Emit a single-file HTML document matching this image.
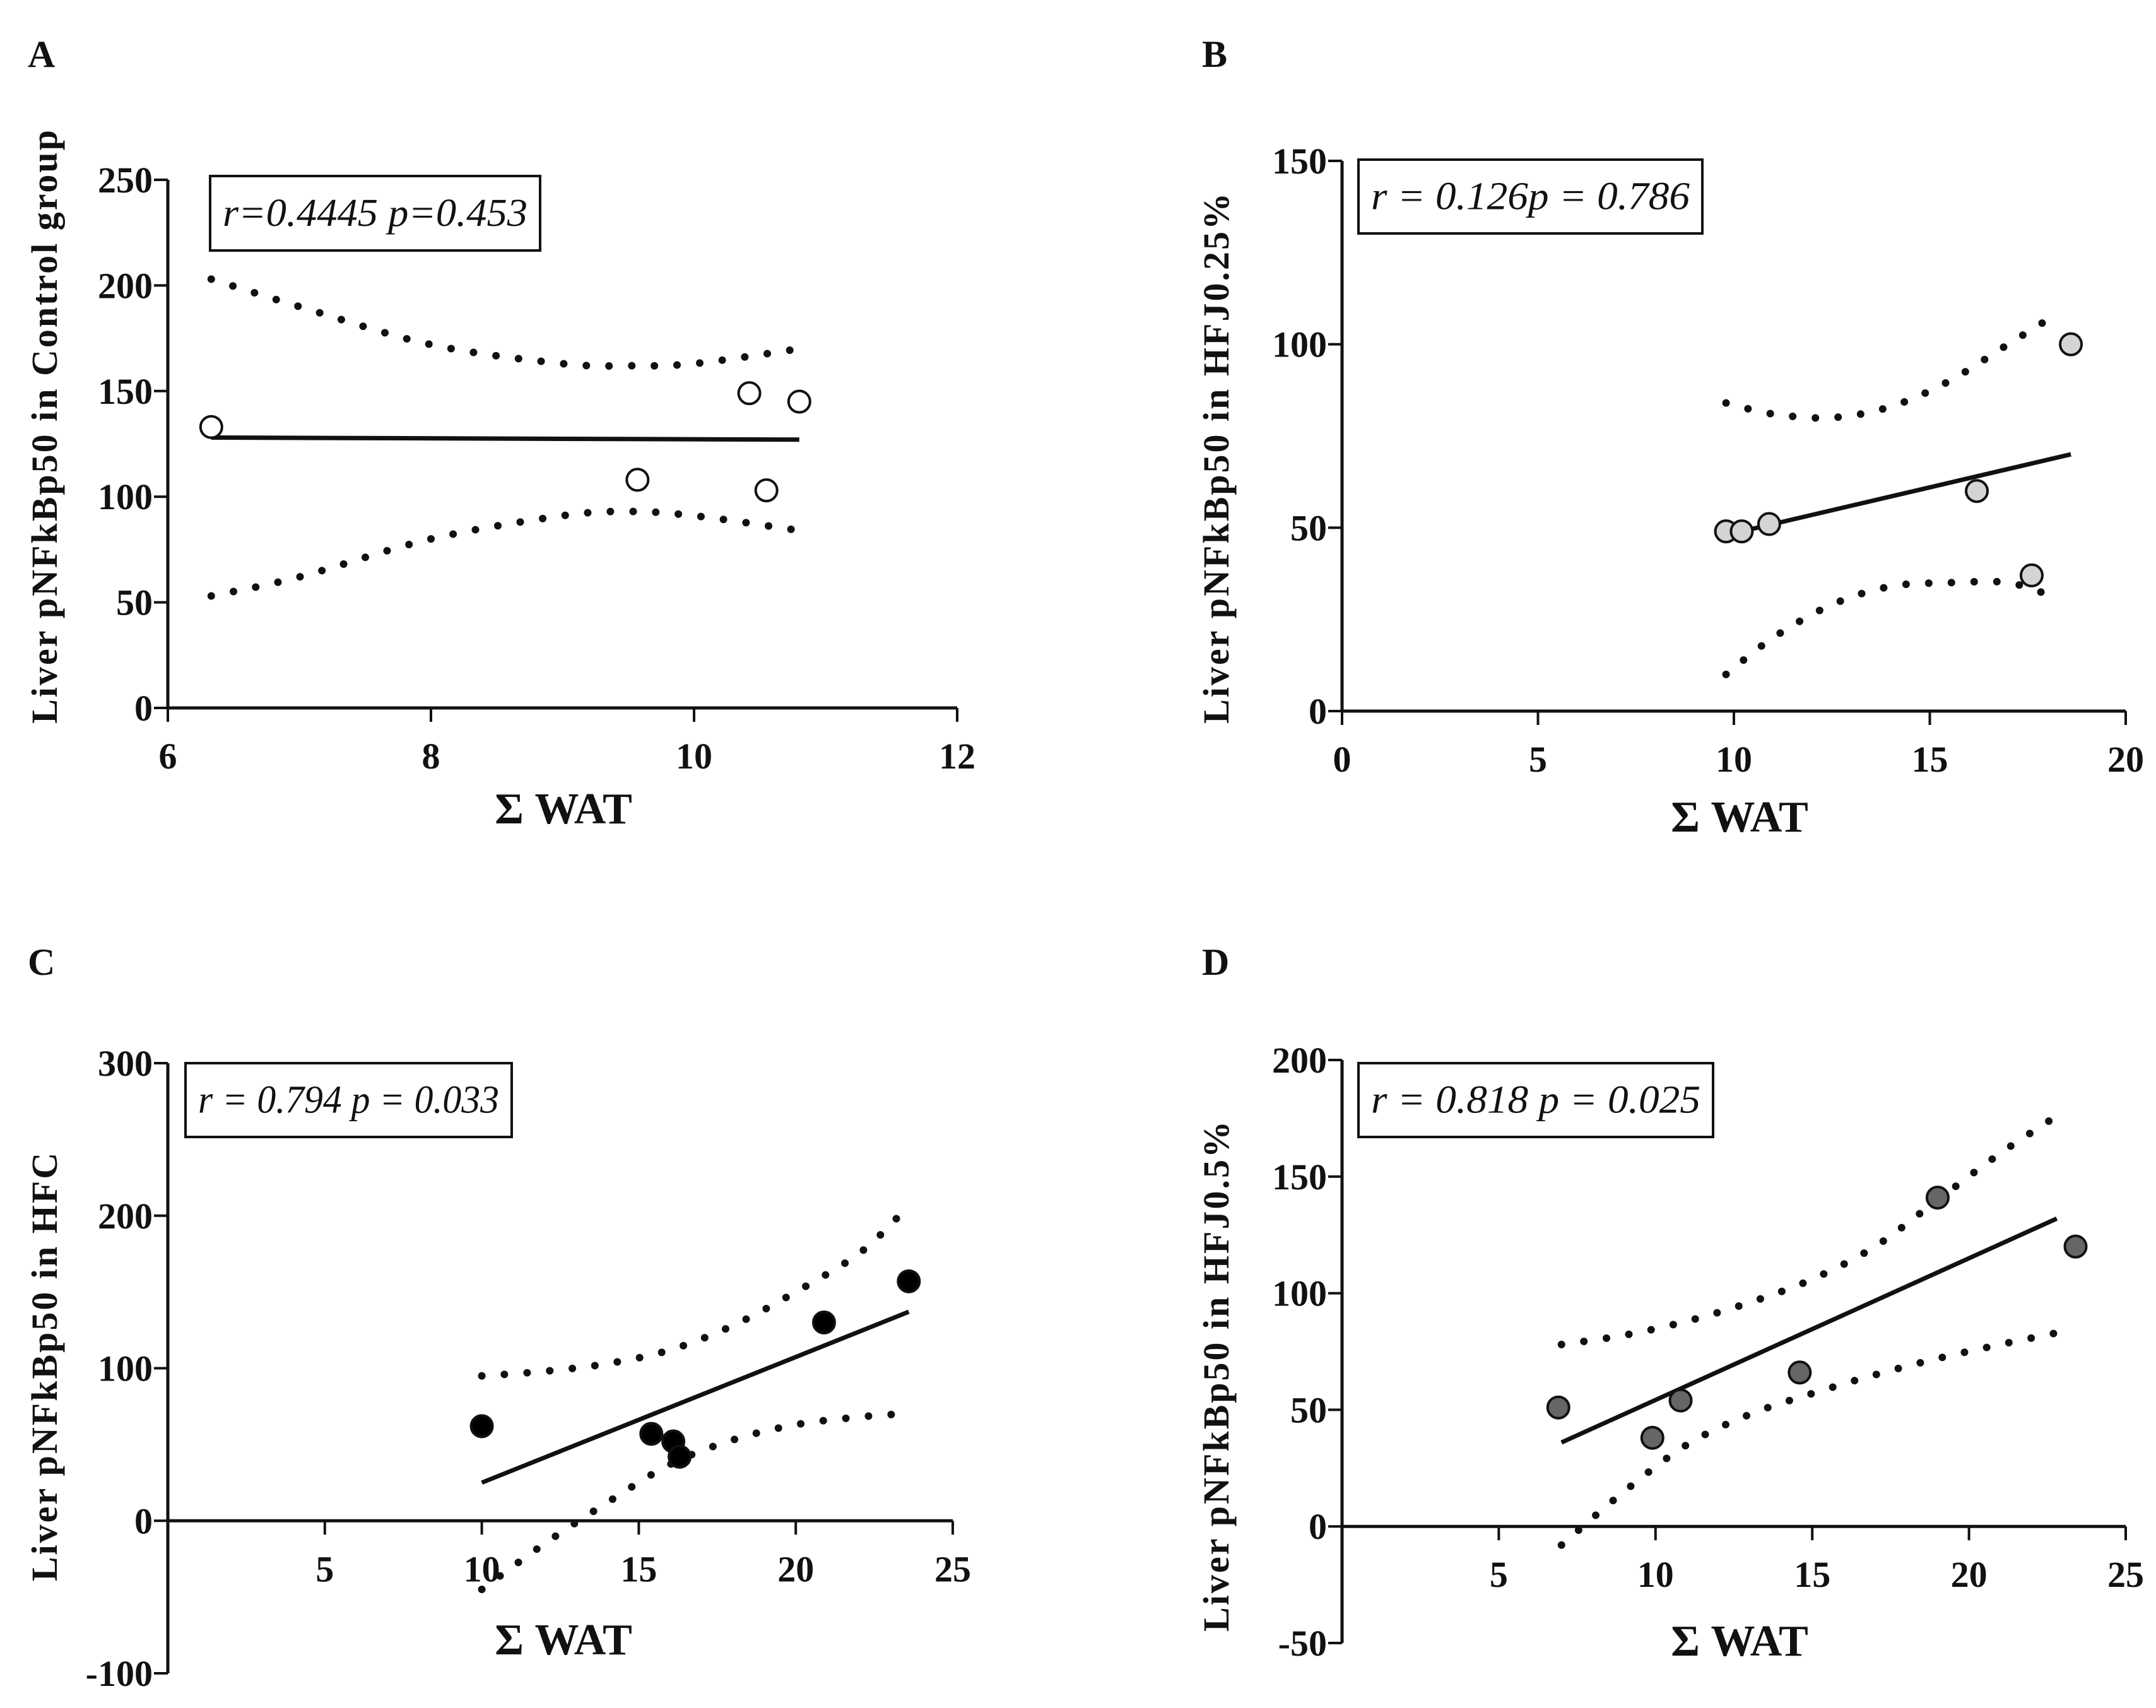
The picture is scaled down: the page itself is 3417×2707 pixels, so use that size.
<!DOCTYPE html>
<html><head><meta charset="utf-8">
<style>
html,body{margin:0;padding:0;background:#fff;}
svg{display:block;}
text{font-family:"Liberation Serif",serif;font-weight:bold;fill:#111;}
text.stat{font-weight:normal;font-style:italic;}
</style></head>
<body>
<svg id="fig" width="3417" height="2707" viewBox="0 0 3417 2707" xmlns="http://www.w3.org/2000/svg"></svg>
<script>
// ---- Panel A data ----
const aX = [6.33, 9.57, 10.42, 10.55, 10.8];
const aY = [133, 108, 149, 103, 145];
const aFitX = [6.33, 10.8];
const aFitY = [128, 127];
const aBandX = [6.33, 7.0, 8.0, 9.0, 9.5, 10.0, 10.8];
const aUpper = [203, 190, 172, 163, 162, 163, 170];
const aLower = [53, 62, 80, 91, 93, 91, 84];
const aXTicks = [6, 8, 10, 12];
const aYTicks = [0, 50, 100, 150, 200, 250];
// ---- Panel B data ----
const bX = [9.8, 10.2, 10.9, 16.2, 17.6, 18.6];
const bY = [49, 49, 51, 60, 37, 100];
const bFitX = [9.8, 18.6];
const bFitY = [48, 70];
const bBandX = [9.8, 11.0, 12.5, 14.0, 15.5, 17.0, 18.2];
const bUpper = [84, 81, 80, 83, 90, 100, 108];
const bLower = [10, 20, 29, 34, 35, 35, 31];
const bXTicks = [0, 5, 10, 15, 20];
const bYTicks = [0, 50, 100, 150];
// ---- Panel C data ----
const cX = [10.0, 15.4, 16.1, 16.3, 20.9, 23.6];
const cY = [62, 57, 52, 42, 130, 157];
const cFitX = [10.0, 23.6];
const cFitY = [25, 137];
const cBandX = [10.0, 12.0, 14.0, 16.0, 18.0, 20.0, 22.0, 23.3];
const cUpper = [95, 98, 103, 112, 128, 150, 175, 200];
const cLower = [-45, -15, 12, 37, 53, 63, 68, 70];
const cXTicks = [5, 10, 15, 20, 25];
const cYTicks = [-100, 0, 100, 200, 300];
// ---- Panel D data ----
const dX = [6.9, 9.9, 10.8, 14.6, 19.0, 23.4];
const dY = [51, 38, 54, 66, 141, 120];
const dFitX = [7.0, 22.8];
const dFitY = [36, 132];
const dBandX = [7.0, 9.0, 11.0, 13.0, 15.0, 17.0, 19.0, 21.0, 22.8];
const dUpper = [78, 82, 88, 96, 106, 120, 140, 160, 176];
const dLower = [-8, 15, 35, 48, 57, 65, 72, 78, 83];
const dXTicks = [5, 10, 15, 20, 25];
const dYTicks = [-50, 0, 50, 100, 150, 200];

const NS = 'http://www.w3.org/2000/svg';
const svg = document.getElementById('fig');
function mk(tag, attrs, parent, txt) {
  const e = document.createElementNS(NS, tag);
  for (const k in attrs) e.setAttribute(k, attrs[k]);
  if (txt !== undefined) e.textContent = txt;
  (parent || svg).appendChild(e);
  return e;
}

function panel(cfg) {
  const g = mk('g', {});
  
  
  const sx = v => cfg.px0 + (v - cfg.x0) / (cfg.x1 - cfg.x0) * (cfg.px1 - cfg.px0);
  const sy = v => cfg.py0 + (v - cfg.y0) / (cfg.y1 - cfg.y0) * (cfg.py1 - cfg.py0);
  const L = mk('text', {x: cfg.lx, y: cfg.ly, 'font-size': 60}, g, cfg.letter);
  
  
  const axisY = sy(Math.max(cfg.y0, 0));
  const xa = mk('line', {x1: cfg.px0, y1: axisY, x2: cfg.px1, y2: axisY, stroke: '#111', 'stroke-width': 5}, g);
  
  
  const ya = mk('line', {x1: cfg.px0, y1: sy(cfg.y0), x2: cfg.px0, y2: sy(cfg.y1), stroke: '#111', 'stroke-width': 5}, g);
  
  
  cfg.xt.forEach(t => {
    const x = sx(t);
    mk('line', {x1: x, y1: axisY, x2: x, y2: axisY + 22, stroke: '#111', 'stroke-width': 4}, g);
    const tx = mk('text', {x: x, y: axisY + 96, 'font-size': 58, 'text-anchor': 'middle'}, g, String(t));
    
    
  });
  cfg.yt.forEach(t => {
    const y = sy(t);
    mk('line', {x1: cfg.px0 - 22, y1: y, x2: cfg.px0, y2: y, stroke: '#111', 'stroke-width': 4}, g);
    const ty = mk('text', {x: cfg.px0 - 24, y: y + 20, 'font-size': 58, 'text-anchor': 'end'}, g, String(t));
    
    
  });
  const xtl = mk('text', {x: cfg.xtx, y: cfg.xty, 'font-size': 70, 'text-anchor': 'middle'}, g, 'Σ WAT');
  
  
  const ytl = mk('text', {x: 0, y: 0, 'font-size': 58, 'text-anchor': 'middle', 'letter-spacing': 3,
    transform: `translate(${cfg.ytx},${cfg.yty}) rotate(-90)`}, g, cfg.ytitle);
  
  
  const bx = mk('rect', {x: cfg.box[0], y: cfg.box[1], width: cfg.box[2], height: cfg.box[3], fill: '#fff', stroke: '#111', 'stroke-width': 4}, g);
  
  
  const bt = mk('text', {class: 'stat', style: 'font-weight:normal;font-style:italic', x: cfg.box[0] + cfg.box[2] / 2, y: cfg.box[1] + cfg.box[3] / 2 + 20, 'font-size': 62, 'text-anchor': 'middle', textLength: cfg.box[2] - 40, lengthAdjust: 'spacingAndGlyphs'}, g, cfg.stats);
  
  
  [[cfg.up, 'upper-ci-band'], [cfg.lo, 'lower-ci-band']].forEach(([arr, nm]) => {
    const pts = cfg.bx.map((v, i) => [sx(v), sy(arr[i])]);
    let d = 'M' + pts[0][0] + ',' + pts[0][1];
    for (let i = 1; i < pts.length; i++) {
      const p0 = pts[Math.max(i - 2, 0)], p1 = pts[i - 1], p2 = pts[i], p3 = pts[Math.min(i + 1, pts.length - 1)];
      const c1x = p1[0] + (p2[0] - p0[0]) / 6, c1y = p1[1] + (p2[1] - p0[1]) / 6;
      const c2x = p2[0] - (p3[0] - p1[0]) / 6, c2y = p2[1] - (p3[1] - p1[1]) / 6;
      d += ` C${c1x},${c1y} ${c2x},${c2y} ${p2[0]},${p2[1]}`;
    }
    const p = mk('path', {d: d, fill: 'none', stroke: '#111', 'stroke-width': 12, 'stroke-linecap': 'round', 'stroke-dasharray': '0 36'}, g);
    
    
  });
  const fl = mk('line', {x1: sx(cfg.fx[0]), y1: sy(cfg.fy[0]), x2: sx(cfg.fx[1]), y2: sy(cfg.fy[1]), stroke: '#111', 'stroke-width': 7}, g);
  
  
  cfg.xs.forEach((v, i) => {
    const c = mk('circle', {cx: sx(v), cy: sy(cfg.ys[i]), r: 17, fill: cfg.fill, stroke: '#111', 'stroke-width': 4}, g);
    
    
  });
}

panel({name: 'panel-a', letter: 'A', lx: 44, ly: 106,
  x0: 6, x1: 12, px0: 266, px1: 1517, y0: 0, y1: 250, py0: 1122, py1: 285,
  xt: aXTicks, yt: aYTicks, xtx: 893, xty: 1305, ytx: 90, yty: 675,
  ytitle: 'Liver pNFkBp50 in Control group', box: [333, 279, 523, 118], stats: 'r=0.4445 p=0.453',
  bx: aBandX, up: aUpper, lo: aLower, fx: aFitX, fy: aFitY, xs: aX, ys: aY, fill: '#fff'});
panel({name: 'panel-b', letter: 'B', lx: 1905, ly: 106,
  x0: 0, x1: 20, px0: 2127, px1: 3369, y0: 0, y1: 150, py0: 1127, py1: 255,
  xt: bXTicks, yt: bYTicks, xtx: 2757, xty: 1318, ytx: 1947, yty: 725,
  ytitle: 'Liver pNFkBp50 in HFJ0.25%', box: [2153, 253, 545, 117], stats: 'r = 0.126p = 0.786',
  bx: bBandX, up: bUpper, lo: bLower, fx: bFitX, fy: bFitY, xs: bX, ys: bY, fill: '#d4d4d4'});
panel({name: 'panel-c', letter: 'C', lx: 44, ly: 1545,
  x0: 0, x1: 25, px0: 266, px1: 1510, y0: -100, y1: 300, py0: 2652, py1: 1685,
  xt: cXTicks, yt: cYTicks, xtx: 893, xty: 2622, ytx: 90, yty: 2165,
  ytitle: 'Liver pNFkBp50 in  HFC', box: [294, 1685, 517, 117], stats: 'r = 0.794 p = 0.033',
  bx: cBandX, up: cUpper, lo: cLower, fx: cFitX, fy: cFitY, xs: cX, ys: cY, fill: '#000'});
panel({name: 'panel-d', letter: 'D', lx: 1905, ly: 1545,
  x0: 0, x1: 25, px0: 2127, px1: 3369, y0: -50, y1: 200, py0: 2604, py1: 1680,
  xt: dXTicks, yt: dYTicks, xtx: 2757, xty: 2624, ytx: 1947, yty: 2180,
  ytitle: 'Liver pNFkBp50 in HFJ0.5%', box: [2153, 1685, 562, 117], stats: 'r = 0.818 p = 0.025',
  bx: dBandX, up: dUpper, lo: dLower, fx: dFitX, fy: dFitY, xs: dX, ys: dY, fill: '#666'});
</script>
</body></html>
